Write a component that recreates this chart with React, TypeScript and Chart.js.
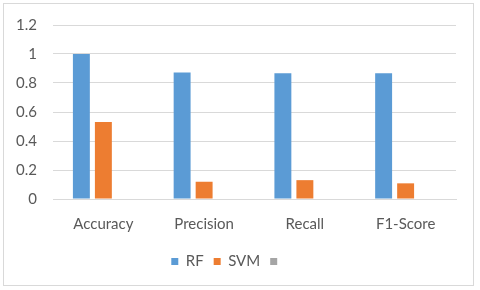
import React, { useEffect, useRef } from "react";
import { Chart, registerables } from "chart.js";

Chart.register(...registerables);

const categories = ["Accuracy", "Precision", "Recall", "F1-Score"];
const rfValues = [1.0, 0.872, 0.867, 0.867];
const svmValues = [0.531, 0.119, 0.13, 0.108];
const thirdValues: (number | null)[] = [null, null, null, null];
const seriesLabels = ["RF", "SVM", ""];
const yTicks = [0, 0.2, 0.4, 0.6, 0.8, 1, 1.2];

export default function App() {
  const ref = useRef<HTMLCanvasElement>(null);
  useEffect(() => {
    document.body.style.margin = "0";
    const ctx = ref.current!;
    const font = { family: "Lato, 'Open Sans', sans-serif", size: 15 };
    const chart = new Chart(ctx, {
      type: "bar",
      data: {
        labels: categories,
        datasets: [
          { label: seriesLabels[0], data: rfValues, backgroundColor: "#5B9BD5" },
          { label: seriesLabels[1], data: svmValues, backgroundColor: "#ED7D31" },
          { label: seriesLabels[2], data: thirdValues, backgroundColor: "#A5A5A5" },
        ],
      },
      options: {
        animation: false,
        responsive: false,
        layout: { padding: { left: 0, right: 24, top: 24, bottom: 11 } },
        datasets: {
          bar: { categoryPercentage: 0.655, barPercentage: 0.77 },
        },
        scales: {
          x: {
            grid: { display: false },
            border: { color: "#D9D9D9" },
            ticks: { color: "#595959", font, padding: 8 },
            afterFit: (s: any) => { s.height = 45; },
          },
          y: {
            min: 0,
            max: 1.2,
            afterBuildTicks: (s: any) => { s.ticks = yTicks.map((v) => ({ value: v })); },
            grid: { color: "#D9D9D9", drawTicks: false },
            border: { display: false },
            ticks: {
              color: "#595959",
              font,
              padding: 16,
              callback: (v: any) => String(Math.round(Number(v) * 10) / 10),
            },
            afterFit: (s: any) => { s.width = 53; },
          },
        },
        plugins: {
          legend: {
            position: "bottom",
            labels: { boxWidth: 7, boxHeight: 7, color: "#595959", font, padding: 10 },
          },
          tooltip: { enabled: false },
        },
      },
    });
    return () => chart.destroy();
  }, []);
  return (
    <div style={{ position: "relative", width: 480, height: 290, background: "#fff" }}>
      <canvas ref={ref} width={480} height={290} style={{ display: "block" }} />
      <div
        style={{
          position: "absolute",
          left: 3,
          top: 3,
          width: 469,
          height: 281,
          border: "1px solid #D9D9D9",
          pointerEvents: "none",
        }}
      />
    </div>
  );
}
